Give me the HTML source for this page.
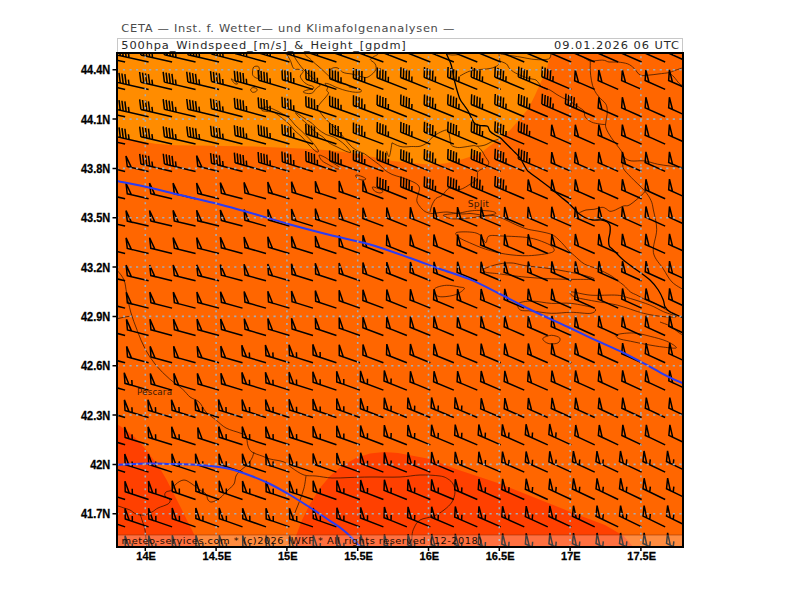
<!DOCTYPE html><html><head><meta charset="utf-8"><title>500hpa Windspeed</title>
<style>html,body{margin:0;padding:0;background:#fff;}svg{display:block;}.t{font-family:"Liberation Sans",Arial,sans-serif;}.d{font-family:"DejaVu Sans","Liberation Sans",sans-serif;}</style></head><body>
<svg width="800" height="600" viewBox="0 0 800 600">
<defs><clipPath id="cp"><rect x="118" y="54" width="564" height="492"/></clipPath>
<path id="b45" d="M-32 0H0M-32 0l-3.52 -9.68M-29 0l-3.52 -9.68M-26 0l-3.52 -9.68M-23 0l-3.52 -9.68M-20 0l-1.85 -5.07"/>
<path id="b50" d="M-21.9 0H0M-21.9 0l-3.63 -9.96L-17.7 0Z"/>
<path id="b55" d="M-24.6 0H0M-24.6 0l-3.63 -9.96L-20.4 0ZM-17.1 0l-1.85 -5.07"/>
</defs>
<rect width="800" height="600" fill="#fff"/>
<text class="d" transform="translate(121.3 32) scale(1.12 1)" font-size="10.2" fill="#4a4a4a" textLength="297.32" lengthAdjust="spacing">CETA — Inst. f. Wetter— und Klimafolgenanalysen —</text>
<rect x="117.5" y="38.5" width="565" height="14" fill="#fff" stroke="#c8c8c8" stroke-width="1"/>
<text class="d" transform="translate(121.3 48.5) scale(1.12 1)" font-size="10.2" fill="#2a2a2a" textLength="254.02" lengthAdjust="spacing">500hpa_Windspeed_[m/s]_&amp;_Height_[gpdm]</text>
<text class="d" transform="translate(554 48.5) scale(1.12 1)" font-size="10.2" fill="#2a2a2a" textLength="111.61" lengthAdjust="spacing">09.01.2026  06  UTC</text>
<g clip-path="url(#cp)">
<rect x="118" y="54" width="564" height="492" fill="#ff6600"/>
<path fill="#ff8c00" d="M118 50 L551 50 L550.8 54.5 L546.7 68.7 L541.7 80.3 L535 95.3 L528.3 108.7 L520 118.7 L510 130.3 L500 138.7 L488.3 147 L480 154 L473 155.75 L462.5 159.25 L445 163.6 L427.5 164.5 L410 162.75 L392.5 161 L375 157.5 L357.5 154 L340 151.4 L325 150 L300 148.6 L255 146.5 L195 145.5 L175 145.2 L155 143.8 L135 140.3 L118 138.5 L114 138Z"/>
<path fill="#ff4000" d="M114 424.5 L118 424.7 L124 428.7 L132 434.7 L140 442.7 L146.7 450.7 L154.7 461.3 L161.3 470.7 L166.7 480 L174.5 495.25 L181 508 L187.5 521.25 L192 530 L195.6 537.5 L197.5 550 L114 550Z"/>
<path fill="#ff4000" d="M292 550 L296 536 L302 520 L310 504 L320 488 L330 476 L342 466 L356 458 L370 453.6 L384 452 L398 453 L414 456 L430 459 L455 468.7 L500 483.7 L537.5 498.7 L575 513.7 L605 525 L623.7 536 L636 550Z"/>
<g fill="none" stroke="#2a1000" stroke-width="0.8" stroke-opacity="0.9" stroke-linejoin="round"><path d="M253.75 67 C254.68 66.07 257.16 65.98 258.1 66.4 C259.04 66.82 259.29 68.25 259.4 69.5 C259.51 70.75 258.65 72.55 258.75 73.9 C258.85 75.25 260.31 76.88 260 77.6 C259.69 78.32 258.05 78.56 256.9 78.25 C255.75 77.94 253.83 76.79 253.1 75.75 C252.37 74.71 252.39 73.46 252.5 72 C252.61 70.54 252.82 67.93 253.75 67Z"/><path d="M250.6 89.5 C250.7 88.72 252.05 87.7 253.1 87.6 C254.15 87.5 256.38 88.27 256.9 88.9 C257.42 89.53 256.98 90.84 256.25 91.4 C255.52 91.96 253.44 92.57 252.5 92.25 C251.56 91.93 250.5 90.28 250.6 89.5Z"/><path d="M231.25 78.9 C231.33 78.53 233.96 80.37 235 81.2 C236.04 82.03 237.58 83.53 237.5 83.9 C237.42 84.27 235.54 84.23 234.5 83.4 C233.46 82.57 231.17 79.27 231.25 78.9Z"/><path d="M287.1 50 C286.22 50.71 286.78 52.92 287.1 54.25 C287.42 55.58 288.37 56.75 289 58 C289.63 59.25 290.33 60.38 290.9 61.75 C291.47 63.12 291.78 65 292.4 66.25 C293.02 67.5 293.67 68.75 294.6 69.25 C295.53 69.75 296.81 69.12 298 69.25 C299.19 69.38 300.88 69.62 301.75 70 C302.62 70.38 303.25 70.88 303.25 71.5 C303.25 72.12 302.25 73 301.75 73.75 C301.25 74.5 300.38 75.25 300.25 76 C300.12 76.75 300.62 77.5 301 78.25 C301.38 79 301.88 79.75 302.5 80.5 C303.12 81.25 303.75 82 304.75 82.75 C305.75 83.5 307.38 84.5 308.5 85 C309.62 85.5 310.62 85.38 311.5 85.75 C312.38 86.12 313.5 86.75 313.75 87.25 C314 87.75 313.62 88.38 313 88.75 C312.38 89.12 311.12 89.25 310 89.5 C308.88 89.75 307.38 89.88 306.25 90.25 C305.12 90.62 303.5 91.31 303.25 91.75 C303 92.19 303.88 92.59 304.75 92.9 C305.62 93.21 307.38 93.54 308.5 93.6 C309.62 93.66 310.62 93.56 311.5 93.25 C312.38 92.94 313.12 92.38 313.75 91.75 C314.38 91.12 314.62 90.25 315.25 89.5 C315.88 88.75 316.71 87.92 317.5 87.25 C318.29 86.58 320.08 86.38 320 85.5 C319.92 84.62 318.33 83.33 317 82 C315.67 80.67 313.83 79.17 312 77.5 C310.17 75.83 307.83 73.83 306 72 C304.17 70.17 302.5 68.33 301 66.5 C299.5 64.67 298.12 62.67 297 61 C295.88 59.33 295.02 58 294.25 56.5 C293.48 55 292.71 53.08 292.4 52 C292.09 50.92 293.28 50.33 292.4 50 C291.52 49.67 287.98 49.29 287.1 50Z"/><path d="M305 50 C305 50.71 304.67 53.17 305 54.25 C305.33 55.33 306.17 55.75 307 56.5 C307.83 57.25 309 57.88 310 58.75 C311 59.62 311.67 60.54 313 61.75 C314.33 62.96 316.33 64.54 318 66 C319.67 67.46 321.21 68.83 323 70.5 C324.79 72.17 327.17 74.58 328.75 76 C330.33 77.42 331.29 78.08 332.5 79 C333.71 79.92 334.58 80.75 336 81.5 C337.42 82.25 339.18 83.02 341 83.5 C342.82 83.98 345.48 83.82 346.9 84.4 C348.32 84.98 348.33 86.42 349.5 87 C350.67 87.58 352.44 87.61 353.9 87.9 C355.36 88.19 357.08 88.47 358.25 88.75 C359.42 89.03 360.46 89.09 360.9 89.6 C361.34 90.11 361.78 91.36 360.9 91.8 C360.02 92.24 357.5 92.32 355.6 92.25 C353.7 92.18 351.68 91.84 349.5 91.4 C347.32 90.96 344.83 90.33 342.5 89.6 C340.17 88.87 337.68 87.9 335.5 87 C333.32 86.1 331.15 84.78 329.4 84.2 C327.65 83.62 325.3 83.03 325 83.5 C324.7 83.97 327.31 85.83 327.6 87 C327.89 88.17 326.6 89.48 326.75 90.5 C326.9 91.52 328.79 91.85 328.5 93.1 C328.21 94.35 326.33 96.35 325 98 C323.67 99.65 321.75 101.29 320.5 103 C319.25 104.71 317.58 106.75 317.5 108.25 C317.42 109.75 318.96 110.54 320 112 C321.04 113.46 322.29 115.33 323.75 117 C325.21 118.67 327.04 120.33 328.75 122 C330.46 123.67 332.12 125.17 334 127 C335.88 128.83 338.17 131 340 133 C341.83 135 343.33 137 345 139 C346.67 141 348.17 143.17 350 145 C351.83 146.83 353.58 148.53 356 150 C358.42 151.47 362.17 152.48 364.5 153.8 C366.83 155.12 368.17 156.53 370 157.9 C371.83 159.27 373.67 160.63 375.5 162 C377.33 163.37 379.4 164.72 381 166.1 C382.6 167.48 383.27 168.92 385.1 170.3 C386.93 171.68 389.47 173.27 392 174.4 C394.53 175.53 397.55 176.18 400.3 177.1 C403.05 178.02 405.75 178.75 408.5 179.9 C411.25 181.05 414.97 182.63 416.8 184 C418.63 185.37 419.22 186.6 419.5 188.1 C419.78 189.6 418.95 190.93 418.5 193 C418.05 195.07 416.63 198.33 416.8 200.5 C416.97 202.67 418.13 204.17 419.5 206 C420.87 207.83 422.92 210.25 425 211.5 C427.08 212.75 429.5 213.33 432 213.5 C434.5 213.67 437.5 212.75 440 212.5 C442.5 212.25 444.5 211.92 447 212 C449.5 212.08 452.33 212.67 455 213 C457.67 213.33 460.5 213.92 463 214 C465.5 214.08 467.5 213.42 470 213.5 C472.5 213.58 475.33 214.08 478 214.5 C480.67 214.92 483.5 215.83 486 216 C488.5 216.17 490.67 215.25 493 215.5 C495.33 215.75 497.83 216.75 500 217.5 C502.17 218.25 504 219.1 506 220 C508 220.9 509.67 221.82 512 222.9 C514.33 223.98 517.25 225.42 520 226.5 C522.75 227.58 525.17 228.57 528.5 229.4 C531.83 230.23 536.17 230.67 540 231.5 C543.83 232.33 548.5 233.15 551.5 234.4 C554.5 235.65 555.82 237.08 558 239 C560.18 240.92 562.77 243.9 564.6 245.9 C566.43 247.9 567.35 249.37 569 251 C570.65 252.63 571.93 253.53 574.5 255.7 C577.07 257.87 580.57 261.8 584.4 264 C588.23 266.2 593.12 266.98 597.5 268.9 C601.88 270.82 607.42 273.58 610.7 275.5 C613.98 277.42 615.02 278.77 617.2 280.4 C619.38 282.03 621.6 283.38 623.8 285.3 C626 287.22 628.2 290.25 630.4 291.9 C632.6 293.55 634.4 293.85 637 295.2 C639.6 296.55 642.83 298.53 646 300 C649.17 301.47 652.83 302.5 656 304 C659.17 305.5 661.83 307.33 665 309 C668.17 310.67 671.83 312.5 675 314 C678.17 315.5 682.5 317.33 684 318"/><path d="M330.25 69.5 C330.83 69.21 332.44 67.97 333.75 67.75 C335.06 67.53 336.64 67.48 338.1 68.2 C339.56 68.92 341.03 71.23 342.5 72.1 C343.97 72.97 345.44 73.1 346.9 73.4 C348.36 73.7 349.57 73.55 351.25 73.9 C352.93 74.25 355.11 74.98 357 75.5 C358.89 76.02 360.93 76.68 362.6 77 C364.27 77.32 365.53 77.78 367 77.4 C368.47 77.03 370.08 75.78 371.4 74.75 C372.72 73.72 374.1 72.42 374.9 71.25 C375.7 70.08 376.2 69.06 376.2 67.75 C376.2 66.44 375.7 64.57 374.9 63.4 C374.1 62.23 372.13 61.48 371.4 60.75 C370.67 60.02 370.07 59.73 370.5 59 C370.93 58.27 372.83 57.13 374 56.4 C375.17 55.67 376.5 55.5 377.5 54.6 C378.5 53.7 379.58 51.6 380 51"/><path d="M261.9 108.25 C262.61 107.67 264.4 106.88 266.25 107 C268.1 107.12 270.54 108 273 109 C275.46 110 278.33 111.5 281 113 C283.67 114.5 286.67 116 289 118 C291.33 120 292.83 122.75 295 125 C297.17 127.25 299.58 129.17 302 131.5 C304.42 133.83 307.33 136.67 309.5 139 C311.67 141.33 313.5 143.5 315 145.5 C316.5 147.5 318.33 150 318.5 151 C318.67 152 317.58 152.5 316 151.5 C314.42 150.5 311.33 147.42 309 145 C306.67 142.58 304.33 139.33 302 137 C299.67 134.67 297.17 133.17 295 131 C292.83 128.83 291.17 126.17 289 124 C286.83 121.83 284.5 119.92 282 118 C279.5 116.08 276.5 113.58 274 112.5 C271.5 111.42 269 111.83 267 111.5 C265 111.17 262.85 111.04 262 110.5 C261.15 109.96 261.19 108.83 261.9 108.25Z"/><path d="M295.75 112.5 C296.67 112.73 301.25 116.17 304 118 C306.75 119.83 309.96 121.67 312.25 123.5 C314.54 125.33 315.46 127.17 317.75 129 C320.04 130.83 323.25 133.12 326 134.5 C328.75 135.88 331.5 135.88 334.25 137.25 C337 138.62 340.21 140.92 342.5 142.75 C344.79 144.58 346.62 146.64 348 148.25 C349.38 149.86 351.21 151.94 350.75 152.4 C350.29 152.86 347.54 151.92 345.25 151 C342.96 150.08 339.75 148.28 337 146.9 C334.25 145.53 331.04 144.36 328.75 142.75 C326.46 141.14 325.54 139.08 323.25 137.25 C320.96 135.42 317.75 134.04 315 131.75 C312.25 129.46 309.5 126.03 306.75 123.5 C304 120.97 300.33 118.43 298.5 116.6 C296.67 114.77 294.83 112.27 295.75 112.5Z"/><path d="M319.1 155.1 C319.78 154.65 323.93 156.75 326 157.9 C328.07 159.05 329.21 160.4 331.5 162 C333.79 163.6 338.83 166.35 339.75 167.5 C340.67 168.65 338.83 169.36 337 168.9 C335.17 168.44 331.27 166.13 328.75 164.75 C326.23 163.37 323.51 162.21 321.9 160.6 C320.29 158.99 318.42 155.55 319.1 155.1Z"/><path d="M372.5 187 C373.08 186.58 376.25 187.83 378 188.5 C379.75 189.17 382.67 190.25 383 191 C383.33 191.75 381.42 193 380 193 C378.58 193 375.75 192 374.5 191 C373.25 190 371.92 187.42 372.5 187Z"/><path d="M356 175 C356.83 174.75 360.33 175.83 362 176.5 C363.67 177.17 366 178.42 366 179 C366 179.58 363.5 180.17 362 180 C360.5 179.83 358 178.83 357 178 C356 177.17 355.17 175.25 356 175Z"/><path d="M392 142.8 C392.92 143.25 395.67 144.82 397.5 145.5 C399.33 146.18 400.7 146.73 403 146.9 C405.3 147.07 408.47 146.61 411.3 146.5 C414.13 146.39 417.3 146.92 420 146.25 C422.7 145.58 425.42 144.04 427.5 142.5 C429.58 140.96 430.62 138.58 432.5 137 C434.38 135.42 436.46 134.17 438.75 133 C441.04 131.83 444.58 130.08 446.25 130 C447.92 129.92 448.12 131.04 448.75 132.5 C449.38 133.96 449.58 136.67 450 138.75 C450.42 140.83 450 143.54 451.25 145 C452.5 146.46 455.21 147.18 457.5 147.5 C459.79 147.82 462.29 147.22 465 146.9 C467.71 146.58 471.67 145.71 473.75 145.6 C475.83 145.49 475.62 146.35 477.5 146.25 C479.38 146.15 482.5 145.83 485 145 C487.5 144.17 490.62 142.08 492.5 141.25 C494.38 140.42 495 140.42 496.25 140 C497.5 139.58 499.38 138.96 500 138.75"/><path d="M477.5 146.25 C478.25 147.04 480.75 149.33 482 151 C483.25 152.67 483.88 154.33 485 156.25 C486.12 158.17 488.58 160.71 488.75 162.5 C488.92 164.29 487.46 165.75 486 167 C484.54 168.25 481.42 169.08 480 170 C478.58 170.92 477.92 171.25 477.5 172.5 C477.08 173.75 477.67 176.25 477.5 177.5 C477.33 178.75 477.67 178.92 476.5 180 C475.33 181.08 473.25 182.42 470.5 184 C467.75 185.58 463.5 188.83 460 189.5 C456.5 190.17 452.5 187 449.5 188 C446.5 189 444.25 193.75 442 195.5 C439.75 197.25 437.67 196.92 436 198.5 C434.33 200.08 433 202.75 432 205 C431 207.25 430.33 210.83 430 212"/><path d="M386.5 151 C386.97 151.92 388.38 157.87 389.3 156.5 C390.22 155.13 391.55 145.08 392 142.8"/><path d="M446 54 C447 54.17 449.67 54.92 452 55 C454.33 55.08 458.67 54.58 460 54.5"/><path d="M460 76 C461.25 75.33 465 73 467.5 72 C470 71 471.25 70.58 475 70 C478.75 69.42 486.25 69.25 490 68.5 C493.75 67.75 495.88 66.75 497.5 65.5 C499.12 64.25 499.45 62.88 499.7 61 C499.95 59.12 499.12 55.38 499 54.25"/><path d="M499.7 61 C500.83 61.5 504.87 62.75 506.5 64 C508.13 65.25 508 67 509.5 68.5 C511 70 512.75 71.5 515.5 73 C518.25 74.5 523.25 76.5 526 77.5 C528.75 78.5 530.33 78.58 532 79 C533.67 79.42 534.83 79.25 536 80 C537.17 80.75 538 82.33 539 83.5 C540 84.67 540.17 85.92 542 87 C543.83 88.08 547.67 88.83 550 90 C552.33 91.17 553.83 92.67 556 94 C558.17 95.33 561 97 563 98 C565 99 566.17 99 568 100 C569.83 101 572 102.67 574 104 C576 105.33 578.33 106.83 580 108 C581.67 109.17 583.12 109.5 584 111 C584.88 112.5 584 115.17 585.25 117 C586.5 118.83 589.21 120.85 591.5 122 C593.79 123.15 596.92 123.48 599 123.9 C601.08 124.32 602.83 124.48 604 124.5 C605.17 124.52 605.67 124.08 606 124"/><path d="M500.5 54 C503.75 54.5 514.25 56.08 520 57 C525.75 57.92 530.25 59.17 535 59.5 C539.75 59.83 545.83 59.92 548.5 59 C551.17 58.08 550.58 54.83 551 54"/><path d="M584 57.6 C584.83 58.12 587.96 60.12 589 60.75 C590.04 61.38 590.04 59.73 590.25 61.4 C590.46 63.07 590.04 67.53 590.25 70.75 C590.46 73.97 590.88 77.62 591.5 80.75 C592.12 83.88 592.75 86.79 594 89.5 C595.25 92.21 597.12 94.71 599 97 C600.88 99.29 603.9 101.38 605.25 103.25 C606.6 105.12 606.79 106.38 607.1 108.25 C607.41 110.12 607.3 112.21 607.1 114.5 C606.9 116.79 606.08 119.75 605.9 122 C605.72 124.25 605.08 125.37 606 128 C606.92 130.63 608.85 133.97 611.4 137.8 C613.95 141.63 619.1 147.7 621.3 151 C623.5 154.3 622.95 155.95 624.6 157.6 C626.25 159.25 627.9 160.35 631.2 160.9 C634.5 161.45 640 160.35 644.4 160.9 C648.8 161.45 653.33 163.35 657.6 164.2 C661.87 165.05 665.6 165.45 670 166 C674.4 166.55 681.67 167.25 684 167.5"/><path d="M624.6 157.6 C624.33 159.25 621.9 164.2 623 167.5 C624.1 170.8 627.63 173.55 631.2 177.4 C634.77 181.25 641.1 186.75 644.4 190.6 C647.7 194.45 649.5 197.27 651 200.5 C652.5 203.73 652.45 205.18 653.4 210 C654.35 214.82 656.7 222.32 656.7 229.4 C656.7 236.48 652.3 245.92 653.4 252.5 C654.5 259.08 660.2 263.98 663.3 268.9 C666.4 273.82 668.55 278.48 672 282 C675.45 285.52 682 288.67 684 290"/><path d="M590.25 61.4 C592.33 61.18 599.62 60 602.75 60.1 C605.88 60.2 606.5 61.68 609 62 C611.5 62.32 614.62 61.68 617.75 62 C620.88 62.32 625.04 62.86 627.75 63.9 C630.46 64.94 631.92 66.38 634 68.25 C636.08 70.12 637.75 73.96 640.25 75.1 C642.75 76.24 645.88 75.3 649 75.1 C652.12 74.9 655.67 74.32 659 73.9 C662.33 73.48 666.5 73.12 669 72.6 C671.5 72.07 671.92 71.47 674 70.75 C676.08 70.03 679.5 68.88 681.5 68.25 C683.5 67.62 685.25 67.21 686 67"/><path d="M669 72.6 C669.83 73.33 672.33 75.22 674 77 C675.67 78.78 677.54 81.79 679 83.25 C680.46 84.71 681.58 84.96 682.75 85.75 C683.92 86.54 685.46 87.62 686 88"/><path d="M579.3 212.7 C580.42 212.25 583.55 210.57 586 210 C588.45 209.43 591.33 209.75 594 209.3 C596.67 208.85 600 207.4 602 207.3 C604 207.2 604.67 208.03 606 208.7 C607.33 209.37 608.45 211.08 610 211.3 C611.55 211.52 613.08 210.88 615.3 210 C617.52 209.12 620.85 206.88 623.3 206 C625.75 205.12 626.63 206.82 630 204.7 C633.37 202.58 640.5 196.42 643.5 193.3 C646.5 190.18 647.25 187.22 648 186"/><path d="M444.7 214.7 C447.15 214.15 455.18 213.62 459.4 213 C463.62 212.38 466.7 211.43 470 211 C473.3 210.57 475.48 210.33 479.2 210.4 C482.92 210.47 489.57 210.85 492.3 211.4 C495.03 211.95 496.7 213 495.6 213.7 C494.5 214.4 490.08 214.88 485.7 215.6 C481.32 216.32 474.77 217.45 469.3 218 C463.83 218.55 457 219.18 452.9 218.9 C448.8 218.62 446.07 217 444.7 216.3 C443.33 215.6 442.25 215.25 444.7 214.7Z"/><path d="M456.2 232.7 C457.85 231.75 465.47 231.72 469.3 232 C473.13 232.28 476.47 232.63 479.2 234.4 C481.93 236.17 484.07 242.33 485.7 242.6 C487.33 242.87 486.25 237.1 489 236 C491.75 234.9 495.62 235.72 502.2 236 C508.78 236.28 521.38 236.6 528.5 237.7 C535.62 238.8 540.8 240.97 544.9 242.6 C549 244.23 552 245.85 553.1 247.5 C554.2 249.15 555.6 251.13 551.5 252.5 C547.4 253.87 536.17 255.43 528.5 255.7 C520.83 255.97 512.63 255.18 505.5 254.1 C498.37 253.02 491.73 251.12 485.7 249.2 C479.67 247.28 473.68 244.52 469.3 242.6 C464.92 240.68 461.58 239.35 459.4 237.7 C457.22 236.05 454.55 233.65 456.2 232.7Z"/><path d="M484.1 268.9 C486.3 267.53 494.25 264.98 498.9 264 C503.55 263.02 507.62 262.73 512 263 C516.38 263.27 518.62 264.62 525.2 265.6 C531.78 266.58 542.73 267.53 551.5 268.9 C560.27 270.27 570.68 272.15 577.8 273.8 C584.92 275.45 594.2 277.87 594.2 278.8 C594.2 279.73 584.92 279.4 577.8 279.4 C570.68 279.4 560.27 279.18 551.5 278.8 C542.73 278.42 533.97 277.93 525.2 277.1 C516.43 276.27 505.48 274.62 498.9 273.8 C492.32 272.98 488.17 273.02 485.7 272.2 C483.23 271.38 481.9 270.27 484.1 268.9Z"/><path d="M434.8 288.6 C436.45 286.95 442.2 285.57 446.3 285.3 C450.4 285.03 456.38 286.45 459.4 287 C462.42 287.55 464.93 287.35 464.4 288.6 C463.87 289.85 459.77 293.13 456.2 294.5 C452.63 295.87 446.3 296.68 443 296.8 C439.7 296.92 437.77 296.57 436.4 295.2 C435.03 293.83 433.15 290.25 434.8 288.6Z"/><path d="M518.6 303.4 C520.52 301.92 526.32 301.1 531.8 301.1 C537.28 301.1 544.93 303.02 551.5 303.4 C558.07 303.78 564.08 302.58 571.2 303.4 C578.32 304.22 590.92 306.65 594.2 308.3 C597.48 309.95 594.73 312.63 590.9 313.3 C587.07 313.97 577.77 312.3 571.2 312.3 C564.63 312.3 558.07 313.52 551.5 313.3 C544.93 313.08 537 311.55 531.8 311 C526.6 310.45 522.5 311.27 520.3 310 C518.1 308.73 516.68 304.88 518.6 303.4Z"/><path d="M571.2 291.9 C573.93 291.63 583.23 294.65 590.9 295.2 C598.57 295.75 610.62 294.65 617.2 295.2 C623.78 295.75 624.92 296.85 630.4 298.5 C635.88 300.15 644.62 302.92 650.1 305.1 C655.58 307.28 658.92 309.68 663.3 311.6 C667.68 313.52 676.4 315.77 676.4 316.6 C676.4 317.43 668.78 317.15 663.3 316.6 C657.82 316.05 651.18 315.22 643.5 313.3 C635.82 311.38 625.42 307.13 617.2 305.1 C608.98 303.07 601.32 302.48 594.2 301.1 C587.08 299.72 578.33 298.33 574.5 296.8 C570.67 295.27 568.47 292.17 571.2 291.9Z"/><path d="M543.3 337.9 C544.5 336.92 548.77 335.3 551.5 335.3 C554.23 335.3 558.62 336.63 559.7 337.9 C560.78 339.17 559.65 341.92 558 342.9 C556.35 343.88 552.08 344.08 549.8 343.8 C547.52 343.52 545.38 342.18 544.3 341.2 C543.22 340.22 542.1 338.88 543.3 337.9Z"/><path d="M617.2 334.6 C619.67 333.67 628.22 332.72 633.7 333 C639.18 333.28 644.62 334.93 650.1 336.3 C655.58 337.67 662.22 339.28 666.6 341.2 C670.98 343.12 676.95 346.82 676.4 347.8 C675.85 348.78 668.23 347.65 663.3 347.1 C658.37 346.55 652.28 345.48 646.8 344.5 C641.32 343.52 635.05 342.18 630.4 341.2 C625.75 340.22 621.1 339.7 618.9 338.6 C616.7 337.5 614.73 335.53 617.2 334.6Z"/><path d="M660 322 C661.67 322.67 667 324.33 670 326 C673 327.67 675.67 330.33 678 332 C680.33 333.67 683 335.33 684 336"/><path d="M112 268 C112.88 268.45 115.3 268.7 117.3 270.7 C119.3 272.7 122.43 276.23 124 280 C125.57 283.77 125.58 287.97 126.7 293.3 C127.82 298.63 128.93 305.77 130.7 312 C132.47 318.23 134.87 324.48 137.3 330.7 C139.73 336.92 142.18 343.53 145.3 349.3 C148.42 355.07 152 360.4 156 365.3 C160 370.2 164.85 374.7 169.3 378.7 C173.75 382.7 179.25 386.25 182.7 389.3 C186.15 392.35 187.28 394.88 190 397 C192.72 399.12 196.33 399.5 199 402 C201.67 404.5 203.17 409 206 412 C208.83 415 212.67 417.33 216 420 C219.33 422.67 222 425.83 226 428 C230 430.17 236.67 431.67 240 433 C243.33 434.33 244.67 433.83 246 436 C247.33 438.17 247 443.33 248 446 C249 448.67 249.67 450.33 252 452 C254.33 453.67 259 454.83 262 456 C265 457.17 266.33 458 270 459 C273.67 460 280.33 460.5 284 462 C287.67 463.5 288.67 465.83 292 468 C295.33 470.17 300 473.67 304 475 C308 476.33 311.33 475.5 316 476 C320.67 476.5 326.33 477.75 332 478 C337.67 478.25 343.67 477.67 350 477.5 C356.33 477.33 361.67 477.08 370 477 C378.33 476.92 391.67 477.33 400 477 C408.33 476.67 413.33 475.17 420 475 C426.67 474.83 435.33 475.33 440 476 C444.67 476.67 445.83 477.67 448 479 C450.17 480.33 451.83 481.83 453 484 C454.17 486.17 455.17 489 455 492 C454.83 495 453.83 499 452 502 C450.17 505 447 507.67 444 510 C441 512.33 438 514.33 434 516 C430 517.67 423.33 518 420 520 C416.67 522 415.33 525.33 414 528 C412.67 530.67 412.33 532.33 412 536 C411.67 539.67 412 547.67 412 550"/><path d="M112 319 C112.88 318.95 115.13 319.03 117.3 318.7 C119.47 318.37 122.55 317.45 125 317 C127.45 316.55 130.83 316.17 132 316"/><path d="M254 452 C253.67 453 253 456 252 458 C251 460 250 461.83 248 464 C246 466.17 242 469 240 471 C238 473 237 473.83 236 476 C235 478.17 235.33 481.67 234 484 C232.67 486.33 230.33 487.67 228 490 C225.67 492.33 222.67 496 220 498 C217.33 500 214 501.67 212 502 C210 502.33 209 501.33 208 500 C207 498.67 207.33 495.67 206 494 C204.67 492.33 202.33 491.67 200 490 C197.67 488.33 194.67 485.67 192 484 C189.33 482.33 186.67 480 184 480 C181.33 480 178 482.33 176 484 C174 485.67 173.67 488.67 172 490 C170.33 491.33 167.17 491 166 492 C164.83 493 164.33 494.67 165 496 C165.67 497.33 169.5 498.67 170 500 C170.5 501.33 170 502.67 168 504 C166 505.33 160.67 506.67 158 508 C155.33 509.33 154.33 510.83 152 512 C149.67 513.17 146.67 514.67 144 515 C141.33 515.33 138.33 514.83 136 514 C133.67 513.17 132 511 130 510 C128 509 126 508.67 124 508 C122 507.33 120 506.5 118 506 C116 505.5 113 505.17 112 505"/><path d="M140 514 C140.33 515 141.17 517.33 142 520 C142.83 522.67 144.33 526.67 145 530 C145.67 533.33 145.83 536.67 146 540 C146.17 543.33 146 548.33 146 550"/><path d="M306 476 C305.67 478 305 484 304 488 C303 492 301.33 496.33 300 500 C298.67 503.67 297.33 506.67 296 510 C294.67 513.33 292.67 518.33 292 520"/></g>
<g fill="none" stroke="#000" stroke-width="1.3" stroke-linejoin="round"><path d="M446.4 50 C446.4 50.6 445.58 51.07 446.4 53.6 C447.22 56.13 449.92 60.52 451.3 65.2 C452.68 69.88 453.32 76.2 454.7 81.7 C456.08 87.2 458.05 94.32 459.6 98.2 C461.15 102.08 462.68 103.03 464 105 C465.32 106.97 466.29 107.92 467.5 110 C468.71 112.08 470 115.21 471.25 117.5 C472.5 119.79 473.33 122.4 475 123.75 C476.67 125.1 479.17 125.18 481.25 125.6 C483.33 126.02 486.04 125.31 487.5 126.25 C488.96 127.19 488.75 129.79 490 131.25 C491.25 132.71 493.33 133.96 495 135 C496.67 136.04 498.33 136.25 500 137.5 C501.67 138.75 503.33 140.83 505 142.5 C506.67 144.17 508.33 145.83 510 147.5 C511.67 149.17 513.33 150.75 515 152.5 C516.67 154.25 518 155.08 520 158 C522 160.92 525.33 167.55 527 170 C528.67 172.45 527.72 170.92 530 172.7 C532.28 174.48 537.15 178.03 540.7 180.7 C544.25 183.37 547.97 186.03 551.3 188.7 C554.63 191.37 557.8 194.27 560.7 196.7 C563.6 199.13 566.27 201.08 568.7 203.3 C571.13 205.52 573.53 208.22 575.3 210 C577.07 211.78 577.52 212.67 579.3 214 C581.08 215.33 583.77 217 586 218 C588.23 219 590.03 219.67 592.7 220 C595.37 220.33 599.57 219.67 602 220 C604.43 220.33 605.97 221 607.3 222 C608.63 223 609.55 224.22 610 226 C610.45 227.78 610.22 230.48 610 232.7 C609.78 234.92 608.82 237.08 608.7 239.3 C608.58 241.52 608.53 244.22 609.3 246 C610.07 247.78 610.97 247.67 613.3 250 C615.63 252.33 619.4 256.67 623.3 260 C627.2 263.33 632.25 266.67 636.7 270 C641.15 273.33 646.4 276.67 650 280 C653.6 283.33 656.08 286.67 658.3 290 C660.52 293.33 662.18 297.22 663.3 300 C664.42 302.78 663.88 304.7 665 306.7 C666.12 308.7 666.83 310.12 670 312 C673.17 313.88 681.67 317 684 318"/></g>
<g fill="none" stroke="#000" stroke-width="1.5" stroke-linejoin="miter" stroke-linecap="butt">
<use href="#b45" transform="translate(125.12 62.06) rotate(12.31)"/>
<use href="#b45" transform="translate(148.6 62.06) rotate(12.56)"/>
<use href="#b45" transform="translate(172.08 62.06) rotate(12.8)"/>
<use href="#b45" transform="translate(195.56 62.06) rotate(13.05)"/>
<use href="#b45" transform="translate(219.04 62.06) rotate(13.3)"/>
<use href="#b45" transform="translate(242.52 62.06) rotate(14.36)"/>
<use href="#b45" transform="translate(266 62.06) rotate(15.45)"/>
<use href="#b45" transform="translate(289.48 62.06) rotate(16.54)"/>
<use href="#b45" transform="translate(312.96 62.06) rotate(17.61)"/>
<use href="#b45" transform="translate(336.44 62.06) rotate(18.55)"/>
<use href="#b45" transform="translate(359.92 62.06) rotate(19.5)"/>
<use href="#b45" transform="translate(383.4 62.06) rotate(20.44)"/>
<use href="#b45" transform="translate(406.88 62.06) rotate(21.38)"/>
<use href="#b45" transform="translate(430.36 62.06) rotate(21.72)"/>
<use href="#b45" transform="translate(453.84 62.06) rotate(21.96)"/>
<use href="#b45" transform="translate(477.32 62.06) rotate(22.21)"/>
<use href="#b45" transform="translate(500.8 62.06) rotate(22.46)"/>
<use href="#b45" transform="translate(524.28 62.06) rotate(22.71)"/>
<use href="#b45" transform="translate(547.76 62.06) rotate(22.95)"/>
<use href="#b45" transform="translate(571.24 62.06) rotate(23.2)"/>
<use href="#b50" transform="translate(594.72 62.06) rotate(23.45)"/>
<use href="#b50" transform="translate(618.2 62.06) rotate(23.61)"/>
<use href="#b50" transform="translate(641.68 62.06) rotate(23.74)"/>
<use href="#b50" transform="translate(665.16 62.06) rotate(23.87)"/>
<use href="#b50" transform="translate(688.64 62.06) rotate(24)"/>
<use href="#b45" transform="translate(125.12 89.4) rotate(12.42)"/>
<use href="#b45" transform="translate(148.6 89.4) rotate(12.67)"/>
<use href="#b45" transform="translate(172.08 89.4) rotate(12.92)"/>
<use href="#b45" transform="translate(195.56 89.4) rotate(13.16)"/>
<use href="#b45" transform="translate(219.04 89.4) rotate(13.41)"/>
<use href="#b45" transform="translate(242.52 89.4) rotate(14.42)"/>
<use href="#b45" transform="translate(266 89.4) rotate(15.47)"/>
<use href="#b45" transform="translate(289.48 89.4) rotate(16.52)"/>
<use href="#b45" transform="translate(312.96 89.4) rotate(17.55)"/>
<use href="#b45" transform="translate(336.44 89.4) rotate(18.52)"/>
<use href="#b45" transform="translate(359.92 89.4) rotate(19.48)"/>
<use href="#b45" transform="translate(383.4 89.4) rotate(20.45)"/>
<use href="#b45" transform="translate(406.88 89.4) rotate(21.41)"/>
<use href="#b45" transform="translate(430.36 89.4) rotate(21.76)"/>
<use href="#b45" transform="translate(453.84 89.4) rotate(22.01)"/>
<use href="#b45" transform="translate(477.32 89.4) rotate(22.26)"/>
<use href="#b45" transform="translate(500.8 89.4) rotate(22.51)"/>
<use href="#b45" transform="translate(524.28 89.4) rotate(22.76)"/>
<use href="#b45" transform="translate(547.76 89.4) rotate(23.01)"/>
<use href="#b45" transform="translate(571.24 89.4) rotate(23.26)"/>
<use href="#b50" transform="translate(594.72 89.4) rotate(23.51)"/>
<use href="#b50" transform="translate(618.2 89.4) rotate(23.67)"/>
<use href="#b50" transform="translate(641.68 89.4) rotate(23.8)"/>
<use href="#b50" transform="translate(665.16 89.4) rotate(23.93)"/>
<use href="#b50" transform="translate(688.64 89.4) rotate(24.06)"/>
<use href="#b45" transform="translate(125.12 116.74) rotate(12.53)"/>
<use href="#b45" transform="translate(148.6 116.74) rotate(12.78)"/>
<use href="#b45" transform="translate(172.08 116.74) rotate(13.03)"/>
<use href="#b45" transform="translate(195.56 116.74) rotate(13.27)"/>
<use href="#b45" transform="translate(219.04 116.74) rotate(13.52)"/>
<use href="#b45" transform="translate(242.52 116.74) rotate(14.49)"/>
<use href="#b45" transform="translate(266 116.74) rotate(15.49)"/>
<use href="#b45" transform="translate(289.48 116.74) rotate(16.5)"/>
<use href="#b45" transform="translate(312.96 116.74) rotate(17.5)"/>
<use href="#b45" transform="translate(336.44 116.74) rotate(18.48)"/>
<use href="#b45" transform="translate(359.92 116.74) rotate(19.47)"/>
<use href="#b45" transform="translate(383.4 116.74) rotate(20.46)"/>
<use href="#b45" transform="translate(406.88 116.74) rotate(21.45)"/>
<use href="#b45" transform="translate(430.36 116.74) rotate(21.8)"/>
<use href="#b45" transform="translate(453.84 116.74) rotate(22.05)"/>
<use href="#b45" transform="translate(477.32 116.74) rotate(22.3)"/>
<use href="#b45" transform="translate(500.8 116.74) rotate(22.56)"/>
<use href="#b45" transform="translate(524.28 116.74) rotate(22.81)"/>
<use href="#b45" transform="translate(547.76 116.74) rotate(23.06)"/>
<use href="#b45" transform="translate(571.24 116.74) rotate(23.32)"/>
<use href="#b45" transform="translate(594.72 116.74) rotate(23.57)"/>
<use href="#b50" transform="translate(618.2 116.74) rotate(23.73)"/>
<use href="#b50" transform="translate(641.68 116.74) rotate(23.86)"/>
<use href="#b50" transform="translate(665.16 116.74) rotate(23.99)"/>
<use href="#b50" transform="translate(688.64 116.74) rotate(24.12)"/>
<use href="#b45" transform="translate(125.12 144.08) rotate(12.65)"/>
<use href="#b45" transform="translate(148.6 144.08) rotate(12.89)"/>
<use href="#b45" transform="translate(172.08 144.08) rotate(13.14)"/>
<use href="#b45" transform="translate(195.56 144.08) rotate(13.39)"/>
<use href="#b45" transform="translate(219.04 144.08) rotate(13.63)"/>
<use href="#b45" transform="translate(242.52 144.08) rotate(14.56)"/>
<use href="#b45" transform="translate(266 144.08) rotate(15.52)"/>
<use href="#b45" transform="translate(289.48 144.08) rotate(16.47)"/>
<use href="#b45" transform="translate(312.96 144.08) rotate(17.44)"/>
<use href="#b45" transform="translate(336.44 144.08) rotate(18.45)"/>
<use href="#b45" transform="translate(359.92 144.08) rotate(19.46)"/>
<use href="#b45" transform="translate(383.4 144.08) rotate(20.47)"/>
<use href="#b45" transform="translate(406.88 144.08) rotate(21.48)"/>
<use href="#b45" transform="translate(430.36 144.08) rotate(21.84)"/>
<use href="#b45" transform="translate(453.84 144.08) rotate(22.09)"/>
<use href="#b45" transform="translate(477.32 144.08) rotate(22.35)"/>
<use href="#b45" transform="translate(500.8 144.08) rotate(22.61)"/>
<use href="#b45" transform="translate(524.28 144.08) rotate(22.86)"/>
<use href="#b45" transform="translate(547.76 144.08) rotate(23.12)"/>
<use href="#b50" transform="translate(571.24 144.08) rotate(23.38)"/>
<use href="#b50" transform="translate(594.72 144.08) rotate(23.63)"/>
<use href="#b50" transform="translate(618.2 144.08) rotate(23.79)"/>
<use href="#b50" transform="translate(641.68 144.08) rotate(23.92)"/>
<use href="#b50" transform="translate(665.16 144.08) rotate(24.05)"/>
<use href="#b50" transform="translate(688.64 144.08) rotate(24.18)"/>
<use href="#b50" transform="translate(125.12 171.42) rotate(12.76)"/>
<use href="#b50" transform="translate(148.6 171.42) rotate(13)"/>
<use href="#b45" transform="translate(172.08 171.42) rotate(13.25)"/>
<use href="#b45" transform="translate(195.56 171.42) rotate(13.5)"/>
<use href="#b50" transform="translate(219.04 171.42) rotate(13.75)"/>
<use href="#b45" transform="translate(242.52 171.42) rotate(14.63)"/>
<use href="#b45" transform="translate(266 171.42) rotate(15.54)"/>
<use href="#b45" transform="translate(289.48 171.42) rotate(16.45)"/>
<use href="#b45" transform="translate(312.96 171.42) rotate(17.38)"/>
<use href="#b45" transform="translate(336.44 171.42) rotate(18.41)"/>
<use href="#b45" transform="translate(359.92 171.42) rotate(19.45)"/>
<use href="#b45" transform="translate(383.4 171.42) rotate(20.48)"/>
<use href="#b45" transform="translate(406.88 171.42) rotate(21.51)"/>
<use href="#b45" transform="translate(430.36 171.42) rotate(21.88)"/>
<use href="#b45" transform="translate(453.84 171.42) rotate(22.14)"/>
<use href="#b45" transform="translate(477.32 171.42) rotate(22.4)"/>
<use href="#b45" transform="translate(500.8 171.42) rotate(22.66)"/>
<use href="#b45" transform="translate(524.28 171.42) rotate(22.92)"/>
<use href="#b45" transform="translate(547.76 171.42) rotate(23.18)"/>
<use href="#b50" transform="translate(571.24 171.42) rotate(23.44)"/>
<use href="#b50" transform="translate(594.72 171.42) rotate(23.69)"/>
<use href="#b50" transform="translate(618.2 171.42) rotate(23.85)"/>
<use href="#b50" transform="translate(641.68 171.42) rotate(23.98)"/>
<use href="#b50" transform="translate(665.16 171.42) rotate(24.12)"/>
<use href="#b50" transform="translate(688.64 171.42) rotate(24.25)"/>
<use href="#b50" transform="translate(125.12 198.76) rotate(12.87)"/>
<use href="#b50" transform="translate(148.6 198.76) rotate(13.12)"/>
<use href="#b50" transform="translate(172.08 198.76) rotate(13.36)"/>
<use href="#b50" transform="translate(195.56 198.76) rotate(13.61)"/>
<use href="#b50" transform="translate(219.04 198.76) rotate(13.86)"/>
<use href="#b50" transform="translate(242.52 198.76) rotate(14.7)"/>
<use href="#b50" transform="translate(266 198.76) rotate(15.56)"/>
<use href="#b50" transform="translate(289.48 198.76) rotate(16.43)"/>
<use href="#b50" transform="translate(312.96 198.76) rotate(17.32)"/>
<use href="#b50" transform="translate(336.44 198.76) rotate(18.38)"/>
<use href="#b50" transform="translate(359.92 198.76) rotate(19.43)"/>
<use href="#b50" transform="translate(383.4 198.76) rotate(20.49)"/>
<use href="#b45" transform="translate(406.88 198.76) rotate(21.55)"/>
<use href="#b45" transform="translate(430.36 198.76) rotate(21.92)"/>
<use href="#b45" transform="translate(453.84 198.76) rotate(22.18)"/>
<use href="#b45" transform="translate(477.32 198.76) rotate(22.44)"/>
<use href="#b45" transform="translate(500.8 198.76) rotate(22.71)"/>
<use href="#b45" transform="translate(524.28 198.76) rotate(22.97)"/>
<use href="#b50" transform="translate(547.76 198.76) rotate(23.23)"/>
<use href="#b50" transform="translate(571.24 198.76) rotate(23.49)"/>
<use href="#b50" transform="translate(594.72 198.76) rotate(23.76)"/>
<use href="#b50" transform="translate(618.2 198.76) rotate(23.92)"/>
<use href="#b50" transform="translate(641.68 198.76) rotate(24.05)"/>
<use href="#b50" transform="translate(665.16 198.76) rotate(24.18)"/>
<use href="#b50" transform="translate(688.64 198.76) rotate(24.31)"/>
<use href="#b50" transform="translate(125.12 226.1) rotate(12.98)"/>
<use href="#b50" transform="translate(148.6 226.1) rotate(13.23)"/>
<use href="#b50" transform="translate(172.08 226.1) rotate(13.48)"/>
<use href="#b50" transform="translate(195.56 226.1) rotate(13.72)"/>
<use href="#b50" transform="translate(219.04 226.1) rotate(13.97)"/>
<use href="#b50" transform="translate(242.52 226.1) rotate(14.77)"/>
<use href="#b50" transform="translate(266 226.1) rotate(15.59)"/>
<use href="#b50" transform="translate(289.48 226.1) rotate(16.41)"/>
<use href="#b50" transform="translate(312.96 226.1) rotate(17.26)"/>
<use href="#b50" transform="translate(336.44 226.1) rotate(18.34)"/>
<use href="#b50" transform="translate(359.92 226.1) rotate(19.42)"/>
<use href="#b50" transform="translate(383.4 226.1) rotate(20.5)"/>
<use href="#b50" transform="translate(406.88 226.1) rotate(21.58)"/>
<use href="#b50" transform="translate(430.36 226.1) rotate(21.96)"/>
<use href="#b50" transform="translate(453.84 226.1) rotate(22.22)"/>
<use href="#b50" transform="translate(477.32 226.1) rotate(22.49)"/>
<use href="#b50" transform="translate(500.8 226.1) rotate(22.75)"/>
<use href="#b50" transform="translate(524.28 226.1) rotate(23.02)"/>
<use href="#b50" transform="translate(547.76 226.1) rotate(23.29)"/>
<use href="#b50" transform="translate(571.24 226.1) rotate(23.55)"/>
<use href="#b50" transform="translate(594.72 226.1) rotate(23.82)"/>
<use href="#b50" transform="translate(618.2 226.1) rotate(23.98)"/>
<use href="#b50" transform="translate(641.68 226.1) rotate(24.11)"/>
<use href="#b50" transform="translate(665.16 226.1) rotate(24.24)"/>
<use href="#b50" transform="translate(688.64 226.1) rotate(24.37)"/>
<use href="#b50" transform="translate(125.12 253.44) rotate(13.09)"/>
<use href="#b50" transform="translate(148.6 253.44) rotate(13.34)"/>
<use href="#b50" transform="translate(172.08 253.44) rotate(13.59)"/>
<use href="#b50" transform="translate(195.56 253.44) rotate(13.83)"/>
<use href="#b50" transform="translate(219.04 253.44) rotate(14.08)"/>
<use href="#b50" transform="translate(242.52 253.44) rotate(14.83)"/>
<use href="#b50" transform="translate(266 253.44) rotate(15.61)"/>
<use href="#b50" transform="translate(289.48 253.44) rotate(16.38)"/>
<use href="#b50" transform="translate(312.96 253.44) rotate(17.2)"/>
<use href="#b50" transform="translate(336.44 253.44) rotate(18.3)"/>
<use href="#b50" transform="translate(359.92 253.44) rotate(19.41)"/>
<use href="#b50" transform="translate(383.4 253.44) rotate(20.51)"/>
<use href="#b50" transform="translate(406.88 253.44) rotate(21.62)"/>
<use href="#b50" transform="translate(430.36 253.44) rotate(22)"/>
<use href="#b50" transform="translate(453.84 253.44) rotate(22.27)"/>
<use href="#b50" transform="translate(477.32 253.44) rotate(22.53)"/>
<use href="#b50" transform="translate(500.8 253.44) rotate(22.8)"/>
<use href="#b50" transform="translate(524.28 253.44) rotate(23.07)"/>
<use href="#b50" transform="translate(547.76 253.44) rotate(23.34)"/>
<use href="#b50" transform="translate(571.24 253.44) rotate(23.61)"/>
<use href="#b50" transform="translate(594.72 253.44) rotate(23.88)"/>
<use href="#b50" transform="translate(618.2 253.44) rotate(24.04)"/>
<use href="#b50" transform="translate(641.68 253.44) rotate(24.17)"/>
<use href="#b50" transform="translate(665.16 253.44) rotate(24.3)"/>
<use href="#b50" transform="translate(688.64 253.44) rotate(24.43)"/>
<use href="#b50" transform="translate(125.12 280.78) rotate(13.22)"/>
<use href="#b50" transform="translate(148.6 280.78) rotate(13.47)"/>
<use href="#b50" transform="translate(172.08 280.78) rotate(13.71)"/>
<use href="#b50" transform="translate(195.56 280.78) rotate(13.96)"/>
<use href="#b50" transform="translate(219.04 280.78) rotate(14.21)"/>
<use href="#b50" transform="translate(242.52 280.78) rotate(14.91)"/>
<use href="#b50" transform="translate(266 280.78) rotate(15.64)"/>
<use href="#b50" transform="translate(289.48 280.78) rotate(16.37)"/>
<use href="#b50" transform="translate(312.96 280.78) rotate(17.15)"/>
<use href="#b50" transform="translate(336.44 280.78) rotate(18.27)"/>
<use href="#b50" transform="translate(359.92 280.78) rotate(19.4)"/>
<use href="#b50" transform="translate(383.4 280.78) rotate(20.52)"/>
<use href="#b50" transform="translate(406.88 280.78) rotate(21.65)"/>
<use href="#b50" transform="translate(430.36 280.78) rotate(22.04)"/>
<use href="#b50" transform="translate(453.84 280.78) rotate(22.31)"/>
<use href="#b50" transform="translate(477.32 280.78) rotate(22.58)"/>
<use href="#b50" transform="translate(500.8 280.78) rotate(22.85)"/>
<use href="#b50" transform="translate(524.28 280.78) rotate(23.13)"/>
<use href="#b50" transform="translate(547.76 280.78) rotate(23.4)"/>
<use href="#b50" transform="translate(571.24 280.78) rotate(23.67)"/>
<use href="#b50" transform="translate(594.72 280.78) rotate(23.94)"/>
<use href="#b50" transform="translate(618.2 280.78) rotate(24.1)"/>
<use href="#b50" transform="translate(641.68 280.78) rotate(24.24)"/>
<use href="#b50" transform="translate(665.16 280.78) rotate(24.37)"/>
<use href="#b50" transform="translate(688.64 280.78) rotate(24.5)"/>
<use href="#b50" transform="translate(125.12 308.12) rotate(13.89)"/>
<use href="#b50" transform="translate(148.6 308.12) rotate(14.11)"/>
<use href="#b50" transform="translate(172.08 308.12) rotate(14.34)"/>
<use href="#b50" transform="translate(195.56 308.12) rotate(14.56)"/>
<use href="#b50" transform="translate(219.04 308.12) rotate(14.78)"/>
<use href="#b50" transform="translate(242.52 308.12) rotate(15.37)"/>
<use href="#b50" transform="translate(266 308.12) rotate(15.98)"/>
<use href="#b50" transform="translate(289.48 308.12) rotate(16.59)"/>
<use href="#b50" transform="translate(312.96 308.12) rotate(17.27)"/>
<use href="#b50" transform="translate(336.44 308.12) rotate(18.36)"/>
<use href="#b50" transform="translate(359.92 308.12) rotate(19.46)"/>
<use href="#b50" transform="translate(383.4 308.12) rotate(20.56)"/>
<use href="#b50" transform="translate(406.88 308.12) rotate(21.65)"/>
<use href="#b50" transform="translate(430.36 308.12) rotate(22.05)"/>
<use href="#b50" transform="translate(453.84 308.12) rotate(22.34)"/>
<use href="#b50" transform="translate(477.32 308.12) rotate(22.62)"/>
<use href="#b50" transform="translate(500.8 308.12) rotate(22.91)"/>
<use href="#b50" transform="translate(524.28 308.12) rotate(23.2)"/>
<use href="#b50" transform="translate(547.76 308.12) rotate(23.49)"/>
<use href="#b50" transform="translate(571.24 308.12) rotate(23.78)"/>
<use href="#b50" transform="translate(594.72 308.12) rotate(24.06)"/>
<use href="#b50" transform="translate(618.2 308.12) rotate(24.23)"/>
<use href="#b50" transform="translate(641.68 308.12) rotate(24.36)"/>
<use href="#b50" transform="translate(665.16 308.12) rotate(24.49)"/>
<use href="#b50" transform="translate(688.64 308.12) rotate(24.62)"/>
<use href="#b50" transform="translate(125.12 335.46) rotate(14.56)"/>
<use href="#b50" transform="translate(148.6 335.46) rotate(14.76)"/>
<use href="#b50" transform="translate(172.08 335.46) rotate(14.96)"/>
<use href="#b50" transform="translate(195.56 335.46) rotate(15.15)"/>
<use href="#b50" transform="translate(219.04 335.46) rotate(15.35)"/>
<use href="#b50" transform="translate(242.52 335.46) rotate(15.83)"/>
<use href="#b50" transform="translate(266 335.46) rotate(16.33)"/>
<use href="#b50" transform="translate(289.48 335.46) rotate(16.82)"/>
<use href="#b50" transform="translate(312.96 335.46) rotate(17.39)"/>
<use href="#b50" transform="translate(336.44 335.46) rotate(18.45)"/>
<use href="#b50" transform="translate(359.92 335.46) rotate(19.52)"/>
<use href="#b50" transform="translate(383.4 335.46) rotate(20.59)"/>
<use href="#b50" transform="translate(406.88 335.46) rotate(21.66)"/>
<use href="#b50" transform="translate(430.36 335.46) rotate(22.06)"/>
<use href="#b50" transform="translate(453.84 335.46) rotate(22.37)"/>
<use href="#b50" transform="translate(477.32 335.46) rotate(22.67)"/>
<use href="#b50" transform="translate(500.8 335.46) rotate(22.97)"/>
<use href="#b50" transform="translate(524.28 335.46) rotate(23.27)"/>
<use href="#b50" transform="translate(547.76 335.46) rotate(23.58)"/>
<use href="#b50" transform="translate(571.24 335.46) rotate(23.88)"/>
<use href="#b50" transform="translate(594.72 335.46) rotate(24.18)"/>
<use href="#b50" transform="translate(618.2 335.46) rotate(24.35)"/>
<use href="#b50" transform="translate(641.68 335.46) rotate(24.48)"/>
<use href="#b50" transform="translate(665.16 335.46) rotate(24.61)"/>
<use href="#b50" transform="translate(688.64 335.46) rotate(24.74)"/>
<use href="#b50" transform="translate(125.12 362.8) rotate(15.23)"/>
<use href="#b50" transform="translate(148.6 362.8) rotate(15.41)"/>
<use href="#b50" transform="translate(172.08 362.8) rotate(15.58)"/>
<use href="#b50" transform="translate(195.56 362.8) rotate(15.75)"/>
<use href="#b50" transform="translate(219.04 362.8) rotate(15.92)"/>
<use href="#b50" transform="translate(242.52 362.8) rotate(16.29)"/>
<use href="#b55" transform="translate(266 362.8) rotate(16.67)"/>
<use href="#b55" transform="translate(289.48 362.8) rotate(17.05)"/>
<use href="#b55" transform="translate(312.96 362.8) rotate(17.51)"/>
<use href="#b55" transform="translate(336.44 362.8) rotate(18.55)"/>
<use href="#b50" transform="translate(359.92 362.8) rotate(19.58)"/>
<use href="#b50" transform="translate(383.4 362.8) rotate(20.62)"/>
<use href="#b50" transform="translate(406.88 362.8) rotate(21.66)"/>
<use href="#b50" transform="translate(430.36 362.8) rotate(22.08)"/>
<use href="#b50" transform="translate(453.84 362.8) rotate(22.39)"/>
<use href="#b50" transform="translate(477.32 362.8) rotate(22.71)"/>
<use href="#b50" transform="translate(500.8 362.8) rotate(23.03)"/>
<use href="#b50" transform="translate(524.28 362.8) rotate(23.35)"/>
<use href="#b50" transform="translate(547.76 362.8) rotate(23.67)"/>
<use href="#b50" transform="translate(571.24 362.8) rotate(23.99)"/>
<use href="#b50" transform="translate(594.72 362.8) rotate(24.3)"/>
<use href="#b50" transform="translate(618.2 362.8) rotate(24.48)"/>
<use href="#b50" transform="translate(641.68 362.8) rotate(24.61)"/>
<use href="#b50" transform="translate(665.16 362.8) rotate(24.74)"/>
<use href="#b50" transform="translate(688.64 362.8) rotate(24.87)"/>
<use href="#b55" transform="translate(125.12 390.14) rotate(15.9)"/>
<use href="#b55" transform="translate(148.6 390.14) rotate(16.05)"/>
<use href="#b50" transform="translate(172.08 390.14) rotate(16.2)"/>
<use href="#b50" transform="translate(195.56 390.14) rotate(16.35)"/>
<use href="#b50" transform="translate(219.04 390.14) rotate(16.5)"/>
<use href="#b50" transform="translate(242.52 390.14) rotate(16.75)"/>
<use href="#b55" transform="translate(266 390.14) rotate(17.01)"/>
<use href="#b55" transform="translate(289.48 390.14) rotate(17.27)"/>
<use href="#b55" transform="translate(312.96 390.14) rotate(17.63)"/>
<use href="#b55" transform="translate(336.44 390.14) rotate(18.64)"/>
<use href="#b55" transform="translate(359.92 390.14) rotate(19.65)"/>
<use href="#b55" transform="translate(383.4 390.14) rotate(20.66)"/>
<use href="#b55" transform="translate(406.88 390.14) rotate(21.67)"/>
<use href="#b50" transform="translate(430.36 390.14) rotate(22.09)"/>
<use href="#b50" transform="translate(453.84 390.14) rotate(22.42)"/>
<use href="#b50" transform="translate(477.32 390.14) rotate(22.76)"/>
<use href="#b50" transform="translate(500.8 390.14) rotate(23.09)"/>
<use href="#b50" transform="translate(524.28 390.14) rotate(23.42)"/>
<use href="#b50" transform="translate(547.76 390.14) rotate(23.76)"/>
<use href="#b50" transform="translate(571.24 390.14) rotate(24.09)"/>
<use href="#b50" transform="translate(594.72 390.14) rotate(24.43)"/>
<use href="#b50" transform="translate(618.2 390.14) rotate(24.6)"/>
<use href="#b50" transform="translate(641.68 390.14) rotate(24.73)"/>
<use href="#b50" transform="translate(665.16 390.14) rotate(24.86)"/>
<use href="#b50" transform="translate(688.64 390.14) rotate(24.99)"/>
<use href="#b55" transform="translate(125.12 417.48) rotate(16.43)"/>
<use href="#b55" transform="translate(148.6 417.48) rotate(16.63)"/>
<use href="#b55" transform="translate(172.08 417.48) rotate(16.83)"/>
<use href="#b55" transform="translate(195.56 417.48) rotate(17.04)"/>
<use href="#b55" transform="translate(219.04 417.48) rotate(17.24)"/>
<use href="#b55" transform="translate(242.52 417.48) rotate(17.37)"/>
<use href="#b55" transform="translate(266 417.48) rotate(17.51)"/>
<use href="#b55" transform="translate(289.48 417.48) rotate(17.64)"/>
<use href="#b55" transform="translate(312.96 417.48) rotate(17.87)"/>
<use href="#b55" transform="translate(336.44 417.48) rotate(18.83)"/>
<use href="#b55" transform="translate(359.92 417.48) rotate(19.8)"/>
<use href="#b55" transform="translate(383.4 417.48) rotate(20.76)"/>
<use href="#b55" transform="translate(406.88 417.48) rotate(21.72)"/>
<use href="#b55" transform="translate(430.36 417.48) rotate(22.16)"/>
<use href="#b55" transform="translate(453.84 417.48) rotate(22.52)"/>
<use href="#b55" transform="translate(477.32 417.48) rotate(22.88)"/>
<use href="#b50" transform="translate(500.8 417.48) rotate(23.24)"/>
<use href="#b50" transform="translate(524.28 417.48) rotate(23.59)"/>
<use href="#b50" transform="translate(547.76 417.48) rotate(23.95)"/>
<use href="#b50" transform="translate(571.24 417.48) rotate(24.31)"/>
<use href="#b50" transform="translate(594.72 417.48) rotate(24.67)"/>
<use href="#b50" transform="translate(618.2 417.48) rotate(24.85)"/>
<use href="#b50" transform="translate(641.68 417.48) rotate(24.98)"/>
<use href="#b50" transform="translate(665.16 417.48) rotate(25.11)"/>
<use href="#b50" transform="translate(688.64 417.48) rotate(25.24)"/>
<use href="#b55" transform="translate(125.12 444.82) rotate(16.95)"/>
<use href="#b55" transform="translate(148.6 444.82) rotate(17.21)"/>
<use href="#b55" transform="translate(172.08 444.82) rotate(17.47)"/>
<use href="#b55" transform="translate(195.56 444.82) rotate(17.73)"/>
<use href="#b50" transform="translate(219.04 444.82) rotate(17.98)"/>
<use href="#b55" transform="translate(242.52 444.82) rotate(18)"/>
<use href="#b55" transform="translate(266 444.82) rotate(18)"/>
<use href="#b55" transform="translate(289.48 444.82) rotate(18)"/>
<use href="#b55" transform="translate(312.96 444.82) rotate(18.11)"/>
<use href="#b55" transform="translate(336.44 444.82) rotate(19.03)"/>
<use href="#b55" transform="translate(359.92 444.82) rotate(19.95)"/>
<use href="#b55" transform="translate(383.4 444.82) rotate(20.86)"/>
<use href="#b55" transform="translate(406.88 444.82) rotate(21.78)"/>
<use href="#b55" transform="translate(430.36 444.82) rotate(22.23)"/>
<use href="#b55" transform="translate(453.84 444.82) rotate(22.61)"/>
<use href="#b55" transform="translate(477.32 444.82) rotate(23)"/>
<use href="#b55" transform="translate(500.8 444.82) rotate(23.38)"/>
<use href="#b55" transform="translate(524.28 444.82) rotate(23.76)"/>
<use href="#b55" transform="translate(547.76 444.82) rotate(24.15)"/>
<use href="#b55" transform="translate(571.24 444.82) rotate(24.53)"/>
<use href="#b50" transform="translate(594.72 444.82) rotate(24.91)"/>
<use href="#b50" transform="translate(618.2 444.82) rotate(25.1)"/>
<use href="#b50" transform="translate(641.68 444.82) rotate(25.23)"/>
<use href="#b50" transform="translate(665.16 444.82) rotate(25.36)"/>
<use href="#b50" transform="translate(688.64 444.82) rotate(25.49)"/>
<use href="#b55" transform="translate(125.12 472.16) rotate(17.47)"/>
<use href="#b55" transform="translate(148.6 472.16) rotate(17.78)"/>
<use href="#b55" transform="translate(172.08 472.16) rotate(18.1)"/>
<use href="#b55" transform="translate(195.56 472.16) rotate(18.41)"/>
<use href="#b55" transform="translate(219.04 472.16) rotate(18.73)"/>
<use href="#b55" transform="translate(242.52 472.16) rotate(18.62)"/>
<use href="#b55" transform="translate(266 472.16) rotate(18.49)"/>
<use href="#b55" transform="translate(289.48 472.16) rotate(18.36)"/>
<use href="#b55" transform="translate(312.96 472.16) rotate(18.36)"/>
<use href="#b55" transform="translate(336.44 472.16) rotate(19.23)"/>
<use href="#b55" transform="translate(359.92 472.16) rotate(20.1)"/>
<use href="#b55" transform="translate(383.4 472.16) rotate(20.96)"/>
<use href="#b55" transform="translate(406.88 472.16) rotate(21.83)"/>
<use href="#b55" transform="translate(430.36 472.16) rotate(22.3)"/>
<use href="#b55" transform="translate(453.84 472.16) rotate(22.71)"/>
<use href="#b55" transform="translate(477.32 472.16) rotate(23.12)"/>
<use href="#b55" transform="translate(500.8 472.16) rotate(23.53)"/>
<use href="#b55" transform="translate(524.28 472.16) rotate(23.93)"/>
<use href="#b55" transform="translate(547.76 472.16) rotate(24.34)"/>
<use href="#b55" transform="translate(571.24 472.16) rotate(24.75)"/>
<use href="#b55" transform="translate(594.72 472.16) rotate(25.16)"/>
<use href="#b55" transform="translate(618.2 472.16) rotate(25.35)"/>
<use href="#b55" transform="translate(641.68 472.16) rotate(25.48)"/>
<use href="#b55" transform="translate(665.16 472.16) rotate(25.61)"/>
<use href="#b55" transform="translate(688.64 472.16) rotate(25.74)"/>
<use href="#b55" transform="translate(125.12 499.5) rotate(17.99)"/>
<use href="#b55" transform="translate(148.6 499.5) rotate(18.36)"/>
<use href="#b55" transform="translate(172.08 499.5) rotate(18.73)"/>
<use href="#b55" transform="translate(195.56 499.5) rotate(19.1)"/>
<use href="#b55" transform="translate(219.04 499.5) rotate(19.47)"/>
<use href="#b55" transform="translate(242.52 499.5) rotate(19.24)"/>
<use href="#b55" transform="translate(266 499.5) rotate(18.98)"/>
<use href="#b55" transform="translate(289.48 499.5) rotate(18.72)"/>
<use href="#b55" transform="translate(312.96 499.5) rotate(18.6)"/>
<use href="#b55" transform="translate(336.44 499.5) rotate(19.42)"/>
<use href="#b55" transform="translate(359.92 499.5) rotate(20.24)"/>
<use href="#b55" transform="translate(383.4 499.5) rotate(21.07)"/>
<use href="#b55" transform="translate(406.88 499.5) rotate(21.89)"/>
<use href="#b55" transform="translate(430.36 499.5) rotate(22.37)"/>
<use href="#b55" transform="translate(453.84 499.5) rotate(22.81)"/>
<use href="#b55" transform="translate(477.32 499.5) rotate(23.24)"/>
<use href="#b55" transform="translate(500.8 499.5) rotate(23.67)"/>
<use href="#b55" transform="translate(524.28 499.5) rotate(24.1)"/>
<use href="#b55" transform="translate(547.76 499.5) rotate(24.53)"/>
<use href="#b55" transform="translate(571.24 499.5) rotate(24.97)"/>
<use href="#b55" transform="translate(594.72 499.5) rotate(25.4)"/>
<use href="#b55" transform="translate(618.2 499.5) rotate(25.6)"/>
<use href="#b55" transform="translate(641.68 499.5) rotate(25.73)"/>
<use href="#b55" transform="translate(665.16 499.5) rotate(25.86)"/>
<use href="#b55" transform="translate(688.64 499.5) rotate(25.99)"/>
<use href="#b55" transform="translate(125.12 526.84) rotate(18.23)"/>
<use href="#b55" transform="translate(148.6 526.84) rotate(18.6)"/>
<use href="#b55" transform="translate(172.08 526.84) rotate(18.97)"/>
<use href="#b55" transform="translate(195.56 526.84) rotate(19.34)"/>
<use href="#b55" transform="translate(219.04 526.84) rotate(19.71)"/>
<use href="#b55" transform="translate(242.52 526.84) rotate(19.47)"/>
<use href="#b55" transform="translate(266 526.84) rotate(19.21)"/>
<use href="#b55" transform="translate(289.48 526.84) rotate(18.95)"/>
<use href="#b55" transform="translate(312.96 526.84) rotate(18.82)"/>
<use href="#b55" transform="translate(336.44 526.84) rotate(19.59)"/>
<use href="#b55" transform="translate(359.92 526.84) rotate(20.36)"/>
<use href="#b55" transform="translate(383.4 526.84) rotate(21.13)"/>
<use href="#b55" transform="translate(406.88 526.84) rotate(21.9)"/>
<use href="#b55" transform="translate(430.36 526.84) rotate(22.38)"/>
<use href="#b55" transform="translate(453.84 526.84) rotate(22.81)"/>
<use href="#b55" transform="translate(477.32 526.84) rotate(23.24)"/>
<use href="#b55" transform="translate(500.8 526.84) rotate(23.67)"/>
<use href="#b55" transform="translate(524.28 526.84) rotate(24.11)"/>
<use href="#b55" transform="translate(547.76 526.84) rotate(24.54)"/>
<use href="#b55" transform="translate(571.24 526.84) rotate(24.97)"/>
<use href="#b55" transform="translate(594.72 526.84) rotate(25.4)"/>
<use href="#b55" transform="translate(618.2 526.84) rotate(25.6)"/>
<use href="#b55" transform="translate(641.68 526.84) rotate(25.73)"/>
<use href="#b55" transform="translate(665.16 526.84) rotate(25.86)"/>
<use href="#b55" transform="translate(688.64 526.84) rotate(25.99)"/>
<use href="#b55" transform="translate(125.12 554.18) rotate(18.45)"/>
<use href="#b55" transform="translate(148.6 554.18) rotate(18.82)"/>
<use href="#b55" transform="translate(172.08 554.18) rotate(19.19)"/>
<use href="#b55" transform="translate(195.56 554.18) rotate(19.57)"/>
<use href="#b55" transform="translate(219.04 554.18) rotate(19.94)"/>
<use href="#b55" transform="translate(242.52 554.18) rotate(19.7)"/>
<use href="#b55" transform="translate(266 554.18) rotate(19.44)"/>
<use href="#b55" transform="translate(289.48 554.18) rotate(19.18)"/>
<use href="#b55" transform="translate(312.96 554.18) rotate(19.04)"/>
<use href="#b55" transform="translate(336.44 554.18) rotate(19.76)"/>
<use href="#b55" transform="translate(359.92 554.18) rotate(20.47)"/>
<use href="#b55" transform="translate(383.4 554.18) rotate(21.19)"/>
<use href="#b55" transform="translate(406.88 554.18) rotate(21.9)"/>
<use href="#b55" transform="translate(430.36 554.18) rotate(22.38)"/>
<use href="#b55" transform="translate(453.84 554.18) rotate(22.81)"/>
<use href="#b55" transform="translate(477.32 554.18) rotate(23.24)"/>
<use href="#b55" transform="translate(500.8 554.18) rotate(23.67)"/>
<use href="#b55" transform="translate(524.28 554.18) rotate(24.11)"/>
<use href="#b55" transform="translate(547.76 554.18) rotate(24.54)"/>
<use href="#b55" transform="translate(571.24 554.18) rotate(24.97)"/>
<use href="#b55" transform="translate(594.72 554.18) rotate(25.4)"/>
<use href="#b55" transform="translate(618.2 554.18) rotate(25.6)"/>
<use href="#b55" transform="translate(641.68 554.18) rotate(25.73)"/>
<use href="#b55" transform="translate(665.16 554.18) rotate(25.86)"/>
<use href="#b55" transform="translate(688.64 554.18) rotate(25.99)"/>
</g>
<g fill="none" stroke="#2a3cf5" stroke-width="2">
<path d="M108 179.3 C109.67 179.63 112.67 180.27 118 181.3 C123.33 182.33 129.67 183.22 140 185.5 C150.33 187.78 166.67 191.83 180 195 C193.33 198.17 208.33 201.54 220 204.5 C231.67 207.46 238.33 209.42 250 212.75 C261.67 216.08 276.67 220.79 290 224.5 C303.33 228.21 316.67 231.67 330 235 C343.33 238.33 356.67 240.67 370 244.5 C383.33 248.33 398.33 253.92 410 258 C421.67 262.08 430 265.43 440 269 C450 272.57 460 275.23 470 279.4 C480 283.57 490 288.98 500 294 C510 299.02 518.33 303.83 530 309.5 C541.67 315.17 560 323.32 570 328 C580 332.68 581.67 333.73 590 337.6 C598.33 341.47 611.58 347.18 620 351.2 C628.42 355.22 633.83 358.18 640.5 361.7 C647.17 365.22 655.08 369.65 660 372.3 C664.92 374.95 666.33 375.83 670 377.6 C673.67 379.37 678.33 381.42 682 382.9 C685.67 384.38 690.33 385.9 692 386.5"/>
<path d="M108 464.9 C109.67 464.87 111.25 464.93 118 464.7 C124.75 464.47 139.83 463.62 148.5 463.5 C157.17 463.38 163.08 463.82 170 464 C176.92 464.18 183.33 464.27 190 464.6 C196.67 464.93 203.33 465.27 210 466 C216.67 466.73 223.33 467.42 230 469 C236.67 470.58 243.33 473 250 475.5 C256.67 478 263.33 480.75 270 484 C276.67 487.25 283.33 491.08 290 495 C296.67 498.92 305 504.33 310 507.5 C315 510.67 316.67 511.78 320 514 C323.33 516.22 326.67 518.55 330 520.8 C333.33 523.05 336.67 524.97 340 527.5 C343.33 530.03 347 533.12 350 536 C353 538.88 355.67 542.08 358 544.75 C360.33 547.42 363 550.79 364 552"/>
</g>
<path d="M118 513.72H682M118 464.39H682M118 415.06H682M118 365.73H682M118 316.4H682M118 267.07H682M118 217.74H682M118 168.41H682M118 119.08H682M118 69.75H682" stroke="#a3acb8" stroke-width="1.6" stroke-dasharray="2.2 4.346" stroke-dashoffset="1.65" fill="none"/>
<path d="M145.3 54V546M216.1 54V546M286.9 54V546M357.7 54V546M428.5 54V546M499.3 54V546M570.1 54V546M640.9 54V546" stroke="#a3acb8" stroke-width="1.6" stroke-dasharray="2 4.3525" stroke-dashoffset="4.1525" fill="none"/>
<text class="d" transform="translate(467.8 207.3) scale(1.1 1)" font-size="8.4" fill="#3a1604" textLength="19.1" lengthAdjust="spacing">Split</text>
<text class="d" transform="translate(137 394.5) scale(1.1 1)" font-size="7.9" fill="#3a1604" textLength="31.8" lengthAdjust="spacing">Pescara</text>
<rect x="118" y="535" width="564" height="12" fill="#ffffff" fill-opacity="0.25"/>
<line x1="118" y1="535" x2="682" y2="535" stroke="#802800" stroke-opacity="0.6" stroke-width="0.8"/>
<text class="d" transform="translate(121.6 543.7) scale(1.12 1)" font-size="8.8" fill="#1a0a00" textLength="321.87" lengthAdjust="spacing">meteo-services.com * (c)2026 IWKF * All rights reserved (12-2018)</text>
</g>
<rect x="117" y="53" width="566" height="494" fill="none" stroke="#000" stroke-width="2"/>
<text class="t" transform="translate(110.3 518.22) scale(1 1.08)" font-size="11" font-weight="bold" fill="#000" stroke="#000" stroke-width="0.25" text-anchor="end">41.7N</text>
<text class="t" transform="translate(110.3 468.89) scale(1 1.08)" font-size="11" font-weight="bold" fill="#000" stroke="#000" stroke-width="0.25" text-anchor="end">42N</text>
<text class="t" transform="translate(110.3 419.56) scale(1 1.08)" font-size="11" font-weight="bold" fill="#000" stroke="#000" stroke-width="0.25" text-anchor="end">42.3N</text>
<text class="t" transform="translate(110.3 370.23) scale(1 1.08)" font-size="11" font-weight="bold" fill="#000" stroke="#000" stroke-width="0.25" text-anchor="end">42.6N</text>
<text class="t" transform="translate(110.3 320.9) scale(1 1.08)" font-size="11" font-weight="bold" fill="#000" stroke="#000" stroke-width="0.25" text-anchor="end">42.9N</text>
<text class="t" transform="translate(110.3 271.57) scale(1 1.08)" font-size="11" font-weight="bold" fill="#000" stroke="#000" stroke-width="0.25" text-anchor="end">43.2N</text>
<text class="t" transform="translate(110.3 222.24) scale(1 1.08)" font-size="11" font-weight="bold" fill="#000" stroke="#000" stroke-width="0.25" text-anchor="end">43.5N</text>
<text class="t" transform="translate(110.3 172.91) scale(1 1.08)" font-size="11" font-weight="bold" fill="#000" stroke="#000" stroke-width="0.25" text-anchor="end">43.8N</text>
<text class="t" transform="translate(110.3 123.58) scale(1 1.08)" font-size="11" font-weight="bold" fill="#000" stroke="#000" stroke-width="0.25" text-anchor="end">44.1N</text>
<text class="t" transform="translate(110.3 74.25) scale(1 1.08)" font-size="11" font-weight="bold" fill="#000" stroke="#000" stroke-width="0.25" text-anchor="end">44.4N</text>
<text class="t" transform="translate(146.1 560.4) scale(1 1.04)" font-size="11" font-weight="bold" fill="#000" stroke="#000" stroke-width="0.25" text-anchor="middle">14E</text>
<text class="t" transform="translate(216.9 560.4) scale(1 1.04)" font-size="11" font-weight="bold" fill="#000" stroke="#000" stroke-width="0.25" text-anchor="middle">14.5E</text>
<text class="t" transform="translate(287.7 560.4) scale(1 1.04)" font-size="11" font-weight="bold" fill="#000" stroke="#000" stroke-width="0.25" text-anchor="middle">15E</text>
<text class="t" transform="translate(358.5 560.4) scale(1 1.04)" font-size="11" font-weight="bold" fill="#000" stroke="#000" stroke-width="0.25" text-anchor="middle">15.5E</text>
<text class="t" transform="translate(429.3 560.4) scale(1 1.04)" font-size="11" font-weight="bold" fill="#000" stroke="#000" stroke-width="0.25" text-anchor="middle">16E</text>
<text class="t" transform="translate(500.1 560.4) scale(1 1.04)" font-size="11" font-weight="bold" fill="#000" stroke="#000" stroke-width="0.25" text-anchor="middle">16.5E</text>
<text class="t" transform="translate(570.9 560.4) scale(1 1.04)" font-size="11" font-weight="bold" fill="#000" stroke="#000" stroke-width="0.25" text-anchor="middle">17E</text>
<text class="t" transform="translate(641.7 560.4) scale(1 1.04)" font-size="11" font-weight="bold" fill="#000" stroke="#000" stroke-width="0.25" text-anchor="middle">17.5E</text>
<path d="M112.5 513.72H116M112.5 464.39H116M112.5 415.06H116M112.5 365.73H116M112.5 316.4H116M112.5 267.07H116M112.5 217.74H116M112.5 168.41H116M112.5 119.08H116M112.5 69.75H116M145.3 548V551M216.1 548V551M286.9 548V551M357.7 548V551M428.5 548V551M499.3 548V551M570.1 548V551M640.9 548V551" stroke="#000" stroke-width="1.5"/>
</svg></body></html>
